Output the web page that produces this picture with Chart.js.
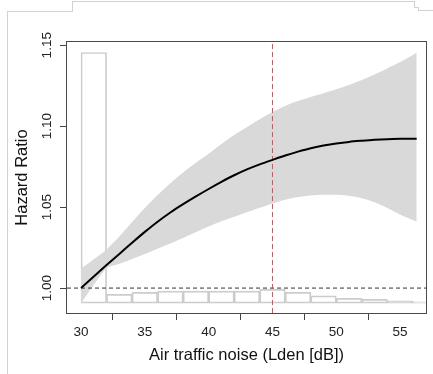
<!DOCTYPE html>
<html>
<head>
<meta charset="utf-8">
<script src="https://cdn.jsdelivr.net/npm/chart.js@4.4.1/dist/chart.umd.min.js"></script>
<style>
  body { margin: 0; background: #fff; }
  #wrap { position: relative; width: 433px; height: 374px; }
  .edge { position: absolute; background: #d2d2d2; }
</style>
</head>
<body>
<div id="wrap">
  <canvas id="hrChart" width="433" height="374"></canvas>
  <div class="edge" style="left:7px;top:11px;width:1px;height:363px"></div>
  <div class="edge" style="left:7px;top:11px;width:66px;height:1px"></div>
  <div class="edge" style="left:72px;top:1px;width:1px;height:11px"></div>
  <div class="edge" style="left:72px;top:1px;width:343px;height:1px"></div>
  <div class="edge" style="left:414px;top:1px;width:1px;height:7px"></div>
  <div class="edge" style="left:414px;top:7px;width:5px;height:1px"></div>
  <div class="edge" style="left:418px;top:7px;width:1px;height:4px"></div>
  <div class="edge" style="left:418px;top:10px;width:15px;height:1px"></div>
</div>
<script>
// -------- data -------- //
var noise = [30, 31, 32, 33, 34, 35, 36, 37, 38, 39, 40, 41, 42, 43, 44, 45,
             46, 47, 48, 49, 50, 51, 52, 53, 54, 55, 56, 56.3];
var hazardRatio = [1.000, 1.0071, 1.0142, 1.0211, 1.0280, 1.0347, 1.0410, 1.0467,
                   1.0518, 1.0566, 1.0612, 1.0656, 1.0697, 1.0733, 1.0764, 1.0792,
                   1.0819, 1.0843, 1.0864, 1.0880, 1.0893, 1.0903, 1.0910, 1.0916,
                   1.0920, 1.0922, 1.0923, 1.0923];
var ciUpper = [1.0121, 1.0178, 1.0239, 1.0318, 1.0408, 1.0495, 1.0575, 1.0648,
               1.0714, 1.0774, 1.0830, 1.0890, 1.0945, 1.0995, 1.1043, 1.1088,
               1.1125, 1.1155, 1.1180, 1.1203, 1.1228, 1.1255, 1.1286, 1.1320,
               1.1357, 1.1396, 1.1440, 1.1453];
var ciLower = [0.9905, 1.0020, 1.0121, 1.0150, 1.0180, 1.0210, 1.0243, 1.0275,
               1.0310, 1.0345, 1.0380, 1.0412, 1.0440, 1.0468, 1.0496, 1.0523,
               1.0545, 1.0562, 1.0572, 1.0576, 1.0576, 1.0570, 1.0555, 1.0530,
               1.0495, 1.0455, 1.0420, 1.0410];

// exposure distribution, drawn on the HR axis
var binStart = [30, 32, 34, 36, 38, 40, 42, 44, 46, 48, 50, 52, 54, 56];
var binTop = [1.1455, 0.9961, 0.9973, 0.9981, 0.9981, 0.9981, 0.9981, 0.9992,
              0.9973, 0.9952, 0.9936, 0.9930, 0.9921, 0.9915];
var binWidth = 2;
var histBase = 0.9907;

var xTicks = [30, 35, 40, 45, 50, 55];
var yTicks = [1.00, 1.05, 1.10, 1.15];
var refHR = 1.0;
var cutoff = 45;
var xMin = 28.9, xMax = 57.03;
var yMin = 0.9846, yMax = 1.152;

// -------- chart -------- //
Chart.defaults.font.family = "'Liberation Sans', Arial, sans-serif";
Chart.defaults.color = '#222';

function pts(xs, ys) {
    return xs.map(function (x, i) { return { x: x, y: ys[i] }; });
}

var frame = {
    id: 'frame',
    afterDatasetsDraw: function (chart) {
        var a = chart.chartArea, ctx = chart.ctx;
        ctx.save();
        ctx.strokeStyle = '#4a4a4a';
        ctx.lineWidth = 1;
        ctx.strokeRect(Math.round(a.left) - 0.5, Math.round(a.top) - 0.5,
                       Math.round(a.width) + 1, Math.round(a.height) + 1);
        ctx.restore();
    }
};

var ctx = document.getElementById('hrChart').getContext('2d');

new Chart(ctx, {
    type: 'line',
    data: {
        datasets: [
            {
                type: 'bar',
                data: pts(binStart.map(function (b) { return b + binWidth / 2; }), binTop),
                base: histBase,
                backgroundColor: 'rgba(0,0,0,0)',
                borderColor: '#cccccc',
                borderWidth: 1,
                borderSkipped: false,
                barPercentage: 1,
                categoryPercentage: 1,
                clip: 0,
                order: 6
            },
            {
                data: pts(noise, ciUpper),
                borderWidth: 0,
                pointRadius: 0,
                tension: 0.3,
                fill: '+1',
                backgroundColor: '#d9d9d9',
                order: 5
            },
            {
                data: pts(noise, ciLower),
                borderWidth: 0,
                pointRadius: 0,
                tension: 0.3,
                fill: false,
                order: 4
            },
            {
                data: [{ x: xMin, y: refHR }, { x: xMax, y: refHR }],
                borderColor: '#333',
                borderWidth: 1,
                borderDash: [4, 3],
                pointRadius: 0,
                order: 3
            },
            {
                data: [{ x: cutoff, y: yMin }, { x: cutoff, y: yMax }],
                borderColor: '#f04545',
                borderWidth: 1,
                borderDash: [5, 3],
                pointRadius: 0,
                order: 2
            },
            {
                data: pts(noise, hazardRatio),
                borderColor: '#000',
                borderWidth: 2,
                pointRadius: 0,
                tension: 0.3,
                fill: false,
                order: 1
            }
        ]
    },
    options: {
        responsive: false,
        animation: false,
        layout: { padding: { top: 42, right: 7, left: 0, bottom: 0 } },
        plugins: {
            legend: { display: false },
            tooltip: { enabled: false }
        },
        scales: {
            x: {
                type: 'linear',
                min: xMin,
                max: xMax,
                offset: false,
                afterBuildTicks: function (s) { s.ticks = xTicks.map(function (v) { return { value: v }; }); },
                afterFit: function (s) { s.height = 61; },
                ticks: { font: { size: 13.5 }, padding: 4, maxRotation: 0, autoSkip: false },
                grid: { drawOnChartArea: false, tickLength: 7, color: '#444' },
                border: { display: false },
                title: {
                    display: true,
                    text: 'Air traffic noise (Lden [dB])',
                    font: { size: 16.5 },
                    color: '#111',
                    padding: { top: 0, bottom: 9 }
                }
            },
            y: {
                type: 'linear',
                min: yMin,
                max: yMax,
                afterBuildTicks: function (s) { s.ticks = yTicks.map(function (v) { return { value: v }; }); },
                afterFit: function (s) { s.width = 67; },
                ticks: {
                    font: { size: 13.5 },
                    minRotation: 90,
                    maxRotation: 90,
                    crossAlign: 'center',
                    padding: 0,
                    autoSkip: false,
                    callback: function (v) { return Number(v).toFixed(2); }
                },
                grid: { drawOnChartArea: false, tickLength: 7, color: '#444' },
                border: { display: false },
                title: {
                    display: true,
                    text: 'Hazard Ratio',
                    font: { size: 16.5 },
                    color: '#111',
                    padding: { top: 13, bottom: 0 }
                }
            }
        }
    },
    plugins: [frame]
});
</script>
</body>
</html>
